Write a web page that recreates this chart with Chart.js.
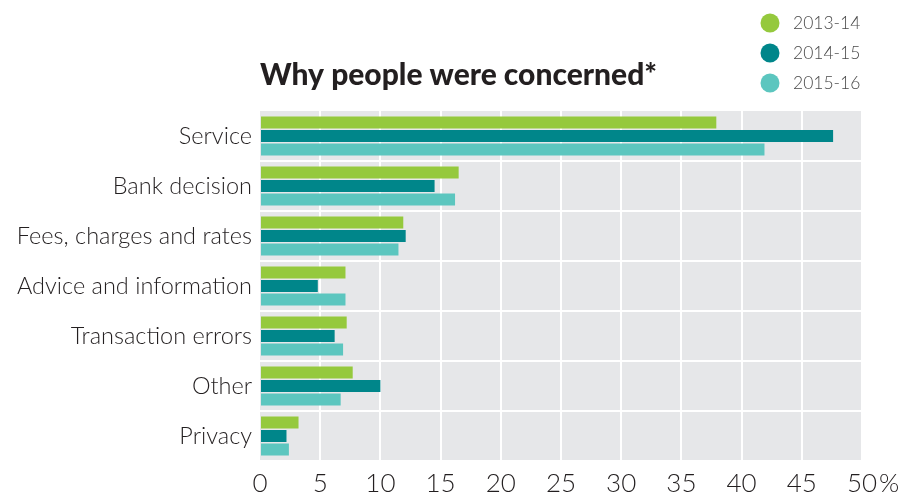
<!DOCTYPE html>
<html>
<head>
<meta charset="utf-8">
<script src="https://cdn.jsdelivr.net/npm/chart.js@4/dist/chart.umd.min.js"></script>
<style>
  html, body { margin: 0; padding: 0; background: #ffffff; }
  #wrap { width: 899px; height: 496px; }
</style>
</head>
<body>
<div id="wrap"><canvas id="chart"></canvas></div>
<script>
// Données
const categories = ['Service', 'Bank decision', 'Fees, charges and rates', 'Advice and information', 'Transaction errors', 'Other', 'Privacy'];
const seriesLabels = ['2013-14', '2014-15', '2015-16'];
const values1314 = [37.9, 16.5, 11.9, 7.1, 7.2, 7.7, 3.2];
const values1415 = [47.6, 14.5, 12.1, 4.8, 6.2, 10.0, 2.2];
const values1516 = [41.9, 16.2, 11.5, 7.1, 6.9, 6.7, 2.4];
const xTicks = [0, 5, 10, 15, 20, 25, 30, 35, 40, 45, 50];
const colors = ['#95c93d', '#00868a', '#5cc6bf'];

const fontFamily = 'Lato, "Open Sans", sans-serif';

// Fond gris de la zone du graphique
const plotBackground = {
    id: 'plotBackground',
    beforeDraw(chart) {
        const { ctx, chartArea } = chart;
        ctx.save();
        ctx.fillStyle = '#e6e7e9';
        ctx.fillRect(chartArea.left, chartArea.top, chartArea.right - chartArea.left, chartArea.bottom - chartArea.top);
        ctx.restore();
    }
};

// Légende en colonne en haut à droite + le signe %
const sideLegend = {
    id: 'sideLegend',
    afterDraw(chart) {
        const ctx = chart.ctx;
        ctx.save();
        chart.data.datasets.forEach((ds, i) => {
            const y = 23 + i * 30;
            ctx.beginPath();
            ctx.arc(770, y, 9.5, 0, Math.PI * 2);
            ctx.fillStyle = ds.backgroundColor;
            ctx.fill();
            ctx.fillStyle = '#4a4a4a';
            ctx.font = '300 17.5px ' + fontFamily;
            ctx.textAlign = 'left';
            ctx.textBaseline = 'middle';
            ctx.fillText(ds.label, 793, y);
        });
        const x = chart.scales.x;
        ctx.fillStyle = '#231f20';
        ctx.font = '300 26px ' + fontFamily;
        ctx.textAlign = 'left';
        ctx.textBaseline = 'middle';
        ctx.fillText('%', x.getPixelForValue(50) + 17, 484);
        ctx.restore();
    }
};

new Chart(document.getElementById('chart').getContext('2d'), {
    type: 'bar',
    data: {
        labels: categories,
        datasets: [
            { label: seriesLabels[0], data: values1314, backgroundColor: colors[0] },
            { label: seriesLabels[1], data: values1415, backgroundColor: colors[1] },
            { label: seriesLabels[2], data: values1516, backgroundColor: colors[2] }
        ]
    },
    options: {
        indexAxis: 'y',
        responsive: true,
        maintainAspectRatio: false,
        animation: false,
        categoryPercentage: 0.81,
        barPercentage: 0.89,
        layout: {
            padding: { left: 0, right: 37, top: 20, bottom: 0 }
        },
        plugins: {
            legend: { display: false },
            tooltip: { enabled: false },
            title: {
                display: true,
                text: 'Why people were concerned*',
                align: 'start',
                fullSize: false,
                color: '#231f20',
                font: { family: fontFamily, size: 30, weight: '900' },
                padding: { top: 37, bottom: 18 }
            }
        },
        scales: {
            x: {
                type: 'linear',
                min: 0,
                max: 50,
                afterBuildTicks(scale) {
                    scale.ticks = xTicks.map(v => ({ value: v }));
                },
                afterFit(scale) { scale.height = 35; },
                grid: {
                    color: ctx => (ctx.tick && ctx.tick.value === 0) ? 'rgba(0,0,0,0)' : '#ffffff',
                    lineWidth: 2,
                    drawTicks: false
                },
                border: { display: false },
                ticks: {
                    color: '#231f20',
                    padding: 7,
                    maxRotation: 0,
                    font: { family: fontFamily, size: 26, weight: '300' }
                }
            },
            y: {
                afterFit(scale) { scale.width = 260; },
                grid: {
                    offset: true,
                    color: ctx => (ctx.index === 0 || ctx.index >= categories.length) ? 'rgba(0,0,0,0)' : '#ffffff',
                    lineWidth: 2,
                    drawTicks: false
                },
                border: { display: false },
                ticks: {
                    color: '#231f20',
                    padding: 8,
                    font: { family: fontFamily, size: 23.5, weight: '300' }
                }
            }
        }
    },
    plugins: [plotBackground, sideLegend]
});
</script>
</body>
</html>
